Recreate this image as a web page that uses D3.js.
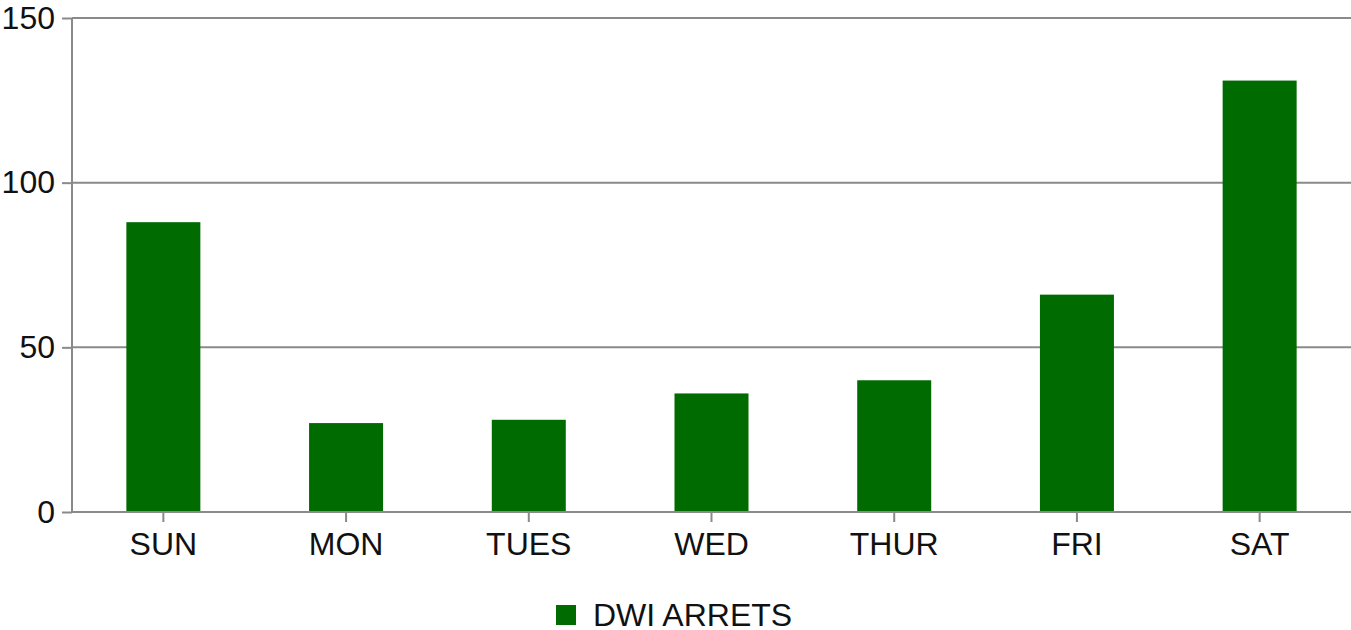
<!DOCTYPE html>
<html>
<head>
<meta charset="utf-8">
<script src="https://cdn.jsdelivr.net/npm/d3@7"></script>
<style>
  body { margin: 0; background: #fff; }
  text { font-family: "Liberation Sans", Arial, sans-serif; fill: #111; }
</style>
</head>
<body>
<div class="chart"></div>
<script>
// Data.
const days = ['SUN', 'MON', 'TUES', 'WED', 'THUR', 'FRI', 'SAT'];
const arrests = [88, 27, 28, 36, 40, 66, 131];
const yTicks = [0, 50, 100, 150];
const seriesName = 'DWI ARRETS';

const width = 1351,
      height = 630,
      margin = {top: 18, right: 0, bottom: 118, left: 72},
      barColor = '#006b00',
      gridColor = '#8a8a8a',
      fontSize = 32;

const svg = d3.select('.chart')
  .append('svg')
    .attr('width', width)
    .attr('height', height);

const x = d3.scaleBand()
  .domain(days)
  .range([margin.left, width - margin.right])
  .paddingInner(0.595)
  .paddingOuter(0.2975);

const y = d3.scaleLinear()
  .domain([0, 150])
  .range([height - margin.bottom, margin.top]);

// Gridlines + y axis
const yAxis = svg.append('g')
  .attr('transform', `translate(${margin.left},0)`)
  .call(d3.axisLeft(y).tickValues(yTicks).tickSize(10).tickPadding(7));
yAxis.select('.domain').remove();
yAxis.selectAll('line').attr('stroke', gridColor).attr('stroke-width', 2);
yAxis.selectAll('text').attr('font-size', fontSize).attr('fill', '#111');

svg.append('g')
  .selectAll('line')
  .data(yTicks)
  .join('line')
    .attr('x1', margin.left)
    .attr('x2', width - margin.right)
    .attr('y1', d => y(d))
    .attr('y2', d => y(d))
    .attr('stroke', gridColor)
    .attr('stroke-width', 2);

svg.append('line')
  .attr('x1', margin.left).attr('x2', margin.left)
  .attr('y1', y(150)).attr('y2', y(0))
  .attr('stroke', gridColor)
  .attr('stroke-width', 2);

// Bars
svg.append('g')
  .selectAll('rect')
  .data(arrests)
  .join('rect')
    .attr('x', (d, i) => x(days[i]))
    .attr('y', d => y(d))
    .attr('width', x.bandwidth())
    .attr('height', d => y(0) - y(d))
    .attr('fill', barColor);

// X axis
const xAxis = svg.append('g')
  .attr('transform', `translate(0,${y(0)})`)
  .call(d3.axisBottom(x).tickSize(10).tickPadding(10));
xAxis.select('.domain').attr('stroke', gridColor).attr('stroke-width', 2)
  .attr('d', `M${margin.left},0H${width - margin.right}`);
xAxis.selectAll('line').attr('stroke', gridColor).attr('stroke-width', 2);
xAxis.selectAll('text').attr('font-size', fontSize).attr('fill', '#111');

// Legend
const legend = svg.append('g').attr('transform', 'translate(556,605)');
legend.append('rect')
  .attr('width', 20).attr('height', 20)
  .attr('fill', barColor);
legend.append('text')
  .attr('x', 37).attr('y', 21)
  .attr('font-size', fontSize)
  .text(seriesName);
</script>
</body>
</html>
